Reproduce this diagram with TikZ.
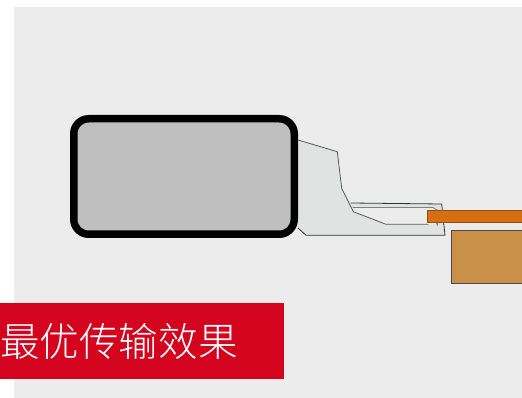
\documentclass[tikz,border=0pt]{standalone}
\usepackage{fontspec}
\newfontfamily\cjk{Noto Sans CJK SC Light}
\definecolor{bgc}{HTML}{ECECEC}
\definecolor{redc}{HTML}{D4041F}
\definecolor{greyc}{HTML}{BFBFBF}
\definecolor{bracketc}{HTML}{E1E3E3}
\definecolor{orangec}{HTML}{D56F12}
\definecolor{brownc}{HTML}{C99147}
\tikzset{
  outl/.style={draw=black!65,line width=0.8pt,line join=round},
  caption/.style={inner sep=0pt,text=white,font=\cjk\fontsize{39.6pt}{40pt}\selectfont,anchor=west}
}
\begin{document}
\begin{tikzpicture}[x=1pt,y=-1pt]
\useasboundingbox (0,0) rectangle (522,398);
\fill[white] (0,0) rectangle (522,398);
\fill[bgc] (14,7) rectangle (522,398);
% bracket
\fill[bracketc] (298,140) -- (337.3,151.7) -- (341.7,188.3) -- (350.7,203.3) -- (441.7,204) -- (445,235.3) -- (306,235.3) -- (298,228) -- cycle;
\fill[bgc] (353.3,211.7) -- (352,207.5) -- (433,207.5) -- (437,210) -- (437,224) -- (428.3,224.3) -- (386,224.3) -- cycle;
\draw[outl] (298,140) -- (337.3,151.7) -- (341.7,188.3) -- (353.3,211.7) -- (386,224.3) -- (428.3,224.3);
\draw[outl,draw=black!80] (298,228) -- (306,235.3) -- (445,235.3) -- (441.7,204) -- (350.7,203);
\draw[outl,draw=black!50] (352.5,207.5) -- (433,207.5) -- (437,210) -- (438,220) -- (437.5,225.5) -- (434,217);
% tube
\node[draw=black,line width=7.5pt,fill=greyc,rounded corners=15pt,minimum width=220.5pt,minimum height=115.5pt,inner sep=0pt,anchor=center] (tube) at (184,176.5) {};
% strip
\path[fill=orangec,draw=orangec!70!black,line width=0.8pt] (427.5,210.7) -- (522,210.7) -- (522,222) -- (427.5,222) -- cycle;
% block
\node[draw=black!70,line width=0.7pt,fill=brownc,minimum width=72pt,minimum height=52pt,inner sep=0pt,anchor=north west] (block) at (450.5,230.5) {};
% caption
\fill[redc] (0,303) rectangle (284,379);
\node[caption] (cap) at (0,341) {最优传输效果};
\end{tikzpicture}
\end{document}
